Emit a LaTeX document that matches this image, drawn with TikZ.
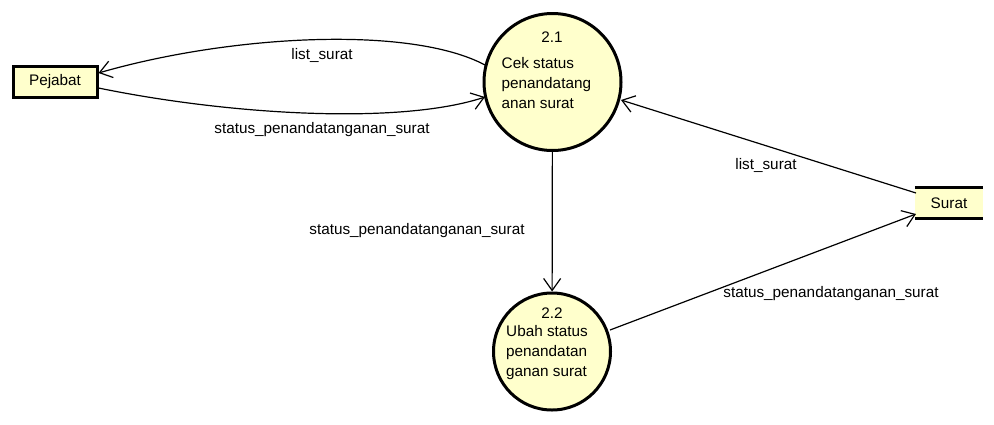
\documentclass[tikz,border=0pt]{standalone}
\usepackage{fontspec}
\setmainfont{Liberation Sans}
\usetikzlibrary{arrows.meta}
\definecolor{dfdfill}{RGB}{255,255,204}

\begin{document}
\begin{tikzpicture}[x=1pt, y=-1pt,
	font=\fontsize{15.3}{20}\selectfont,
	flow/.style={line width=1.2pt, -{Straight Barb[length=12pt, width=17pt, line width=1.2pt]}},
	process/.style={circle, draw, line width=3pt, fill=dfdfill, inner sep=0pt},
	entity/.style={draw, line width=3pt, fill=dfdfill, inner sep=0pt},
	storeline/.style={line width=3pt}]
	\useasboundingbox (0,0) rectangle (994,424);
	% external entity
	\node[entity, minimum width=84, minimum height=31] (pejabat) at (55,81.5) {Pejabat};
	% processes
	\node[process, minimum size=137] (cek) at (552.5,82) {};
	\node (ceknum) at (552,37) {2.1};
	\node[anchor=west, align=left, inner sep=0pt] (cektxt) at (501.5,83) {Cek status\\penandatang\\anan surat};
	\node[process, minimum size=117] (ubah) at (552,351.5) {};
	\node (ubahnum) at (552,313) {2.2};
	\node[anchor=west, align=left, inner sep=0pt] (ubahtxt) at (506,353) {Ubah status\\penandatan\\ganan surat};
	% data store
	\node[fill=dfdfill, minimum width=68, minimum height=30, inner sep=0pt] (surat) at (949,203) {Surat};
	\draw[storeline] (surat.north west) -- (surat.north east);
	\draw[storeline] (surat.south west) -- (surat.south east);
	% flows
	\coordinate (c1) at (485,65);
	\coordinate (c2) at (485,97);
	\coordinate (c3) at (621,100);
	\coordinate (c4) at (610,330);
	\coordinate (s1) at (916,193);
	\coordinate (s2) at (916,214);
	\draw[flow] (c1) .. controls (410,25) and (230,35) .. (pejabat.east |- 0,73);
	\node (l1) at (322,55) {list\_surat};
	\draw[flow] (pejabat.east |- 0,88) .. controls (230,115) and (400,125) .. (c2);
	\node (l2) at (322,130) {status\_penandatanganan\_surat};
	\draw[flow] (cek) -- (ubah);
	\node (l3) at (417,231) {status\_penandatanganan\_surat};
	\draw[flow] (s1) -- (c3);
	\node (l4) at (766,165) {list\_surat};
	\draw[flow] (c4) -- (s2);
	\node (l5) at (831,294) {status\_penandatanganan\_surat};
\end{tikzpicture}
\end{document}
